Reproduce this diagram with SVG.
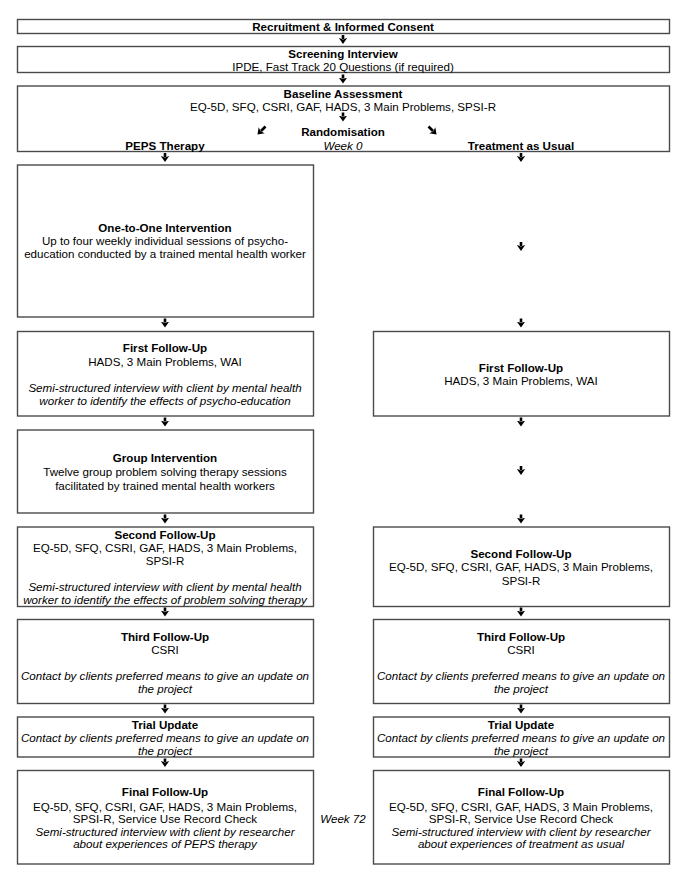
<svg xmlns="http://www.w3.org/2000/svg" width="685" height="881" viewBox="0 0 685 881">
<style>
.box{fill:#fff;stroke:#4a4a4a;stroke-width:1.4}
text{font-family:"Liberation Sans",Arial,sans-serif;font-size:11.6px;fill:#000;text-anchor:middle}
.b{font-weight:bold}
.i{font-style:italic}
.arr{stroke:#000;stroke-width:2.6;fill:none;marker-end:url(#ah)}
</style>
<defs>
<marker id="ah" viewBox="0 0 6 8.5" refX="1" refY="4.25" markerWidth="6" markerHeight="8.5" markerUnits="userSpaceOnUse" orient="auto">
<path d="M0,0 L6,4.25 L0,8.5 L1.5,4.25 z" fill="#000"/>
</marker>
</defs>
<rect width="685" height="881" fill="#fff"/>

<g id="recruitment">
<rect class="box" x="17.5" y="19.5" width="652" height="14"/>
<text class="b" x="343" y="30.5">Recruitment &amp; Informed Consent</text>
</g>

<g id="screening">
<rect class="box" x="17.5" y="46.5" width="652" height="26"/>
<text class="b" x="343" y="57.5">Screening Interview</text>
<text x="343" y="70.5">IPDE, Fast Track 20 Questions (if required)</text>
</g>

<g id="baseline">
<rect class="box" x="17.5" y="86" width="652" height="65.5"/>
<text class="b" x="343" y="98">Baseline Assessment</text>
<text x="343" y="110.5">EQ-5D, SFQ, CSRI, GAF, HADS, 3 Main Problems, SPSI-R</text>
<text class="b" x="343" y="135.5">Randomisation</text>
<text class="i" x="343" y="149.5">Week 0</text>
<text class="b" x="165" y="149.5">PEPS Therapy</text>
<text class="b" x="521" y="149.5">Treatment as Usual</text>
</g>

<g id="one-to-one">
<rect class="box" x="17.5" y="165" width="296" height="152"/>
<text class="b" x="165" y="231.5">One-to-One Intervention</text>
<text x="165" y="244.5">Up to four weekly individual sessions of psycho-</text>
<text x="165" y="257.5">education conducted by a trained mental health worker</text>
</g>

<g id="first-followup-peps">
<rect class="box" x="17.5" y="331.5" width="296" height="84.5"/>
<text class="b" x="165" y="352.3">First Follow-Up</text>
<text x="165" y="365.8">HADS, 3 Main Problems, WAI</text>
<text class="i" x="165" y="391.5">Semi-structured interview with client by mental health</text>
<text class="i" x="165" y="404.5">worker to identify the effects of psycho-education</text>
</g>

<g id="first-followup-tau">
<rect class="box" x="373.5" y="331.5" width="296" height="84.5"/>
<text class="b" x="521" y="371.5">First Follow-Up</text>
<text x="521" y="385">HADS, 3 Main Problems, WAI</text>
</g>

<g id="group-intervention">
<rect class="box" x="17.5" y="430" width="296" height="83"/>
<text class="b" x="165" y="462.3">Group Intervention</text>
<text x="165" y="476.3">Twelve group problem solving therapy sessions</text>
<text x="165" y="489.6">facilitated by trained mental health workers</text>
</g>

<g id="second-followup-peps">
<rect class="box" x="17.5" y="527" width="296" height="79.5"/>
<text class="b" x="165" y="539">Second Follow-Up</text>
<text x="165" y="551.5">EQ-5D, SFQ, CSRI, GAF, HADS, 3 Main Problems,</text>
<text x="165" y="564.5">SPSI-R</text>
<text class="i" x="165" y="590.7">Semi-structured interview with client by mental health</text>
<text class="i" x="165" y="604">worker to identify the effects of problem solving therapy</text>
</g>

<g id="second-followup-tau">
<rect class="box" x="373.5" y="527" width="296" height="79.5"/>
<text class="b" x="521" y="558">Second Follow-Up</text>
<text x="521" y="571.3">EQ-5D, SFQ, CSRI, GAF, HADS, 3 Main Problems,</text>
<text x="521" y="584.5">SPSI-R</text>
</g>

<g id="third-followup-peps">
<rect class="box" x="17.5" y="619.5" width="296" height="84"/>
<text class="b" x="165" y="640.7">Third Follow-Up</text>
<text x="165" y="653.5">CSRI</text>
<text class="i" x="165" y="679.7">Contact by clients preferred means to give an update on</text>
<text class="i" x="165" y="692.5">the project</text>
</g>

<g id="third-followup-tau">
<rect class="box" x="373.5" y="619.5" width="296" height="84"/>
<text class="b" x="521" y="640.7">Third Follow-Up</text>
<text x="521" y="653.5">CSRI</text>
<text class="i" x="521" y="679.7">Contact by clients preferred means to give an update on</text>
<text class="i" x="521" y="692.5">the project</text>
</g>

<g id="trial-update-peps">
<rect class="box" x="17.5" y="717" width="296" height="40"/>
<text class="b" x="165" y="729">Trial Update</text>
<text class="i" x="165" y="741.5">Contact by clients preferred means to give an update on</text>
<text class="i" x="165" y="754.5">the project</text>
</g>

<g id="trial-update-tau">
<rect class="box" x="373.5" y="717" width="296" height="40"/>
<text class="b" x="521" y="729">Trial Update</text>
<text class="i" x="521" y="741.5">Contact by clients preferred means to give an update on</text>
<text class="i" x="521" y="754.5">the project</text>
</g>

<g id="final-followup-peps">
<rect class="box" x="17.5" y="770.5" width="296" height="93.5"/>
<text class="b" x="165" y="795.7">Final Follow-Up</text>
<text x="165" y="810.5">EQ-5D, SFQ, CSRI, GAF, HADS, 3 Main Problems,</text>
<text x="165" y="823">SPSI-R, Service Use Record Check</text>
<text class="i" x="165" y="835.5">Semi-structured interview with client by researcher</text>
<text class="i" x="165" y="848.3">about experiences of PEPS therapy</text>
</g>

<g id="week72">
<text class="i" x="343" y="823">Week 72</text>
</g>

<g id="final-followup-tau">
<rect class="box" x="373.5" y="770.5" width="296" height="93.5"/>
<text class="b" x="521" y="795.7">Final Follow-Up</text>
<text x="521" y="810.5">EQ-5D, SFQ, CSRI, GAF, HADS, 3 Main Problems,</text>
<text x="521" y="823">SPSI-R, Service Use Record Check</text>
<text class="i" x="521" y="835.5">Semi-structured interview with client by researcher</text>
<text class="i" x="521" y="848.3">about experiences of treatment as usual</text>
</g>

<g id="connectors">
<line class="arr" x1="343" y1="35" x2="343" y2="39"/>
<line class="arr" x1="343" y1="74.5" x2="343" y2="78.5"/>
<line class="arr" x1="343" y1="112.5" x2="343" y2="116.5"/>
<line class="arr" x1="265.5" y1="126.5" x2="261" y2="131"/>
<line class="arr" x1="428.5" y1="126.5" x2="433" y2="131"/>
<line class="arr" x1="165" y1="153" x2="165" y2="157"/>
<line class="arr" x1="521" y1="153" x2="521" y2="157"/>
<line class="arr" x1="521" y1="242" x2="521" y2="246"/>
<line class="arr" x1="165" y1="318.5" x2="165" y2="322.5"/>
<line class="arr" x1="521" y1="318.5" x2="521" y2="322.5"/>
<line class="arr" x1="165" y1="417.5" x2="165" y2="421.5"/>
<line class="arr" x1="521" y1="417.5" x2="521" y2="421.5"/>
<line class="arr" x1="521" y1="466" x2="521" y2="470"/>
<line class="arr" x1="165" y1="514.5" x2="165" y2="518.5"/>
<line class="arr" x1="521" y1="514.5" x2="521" y2="518.5"/>
<line class="arr" x1="165" y1="607.5" x2="165" y2="611.5"/>
<line class="arr" x1="521" y1="607.5" x2="521" y2="611.5"/>
<line class="arr" x1="165" y1="704.5" x2="165" y2="708.5"/>
<line class="arr" x1="521" y1="704.5" x2="521" y2="708.5"/>
<line class="arr" x1="165" y1="758.5" x2="165" y2="762"/>
<line class="arr" x1="521" y1="758.5" x2="521" y2="762"/>
</g>
</svg>
